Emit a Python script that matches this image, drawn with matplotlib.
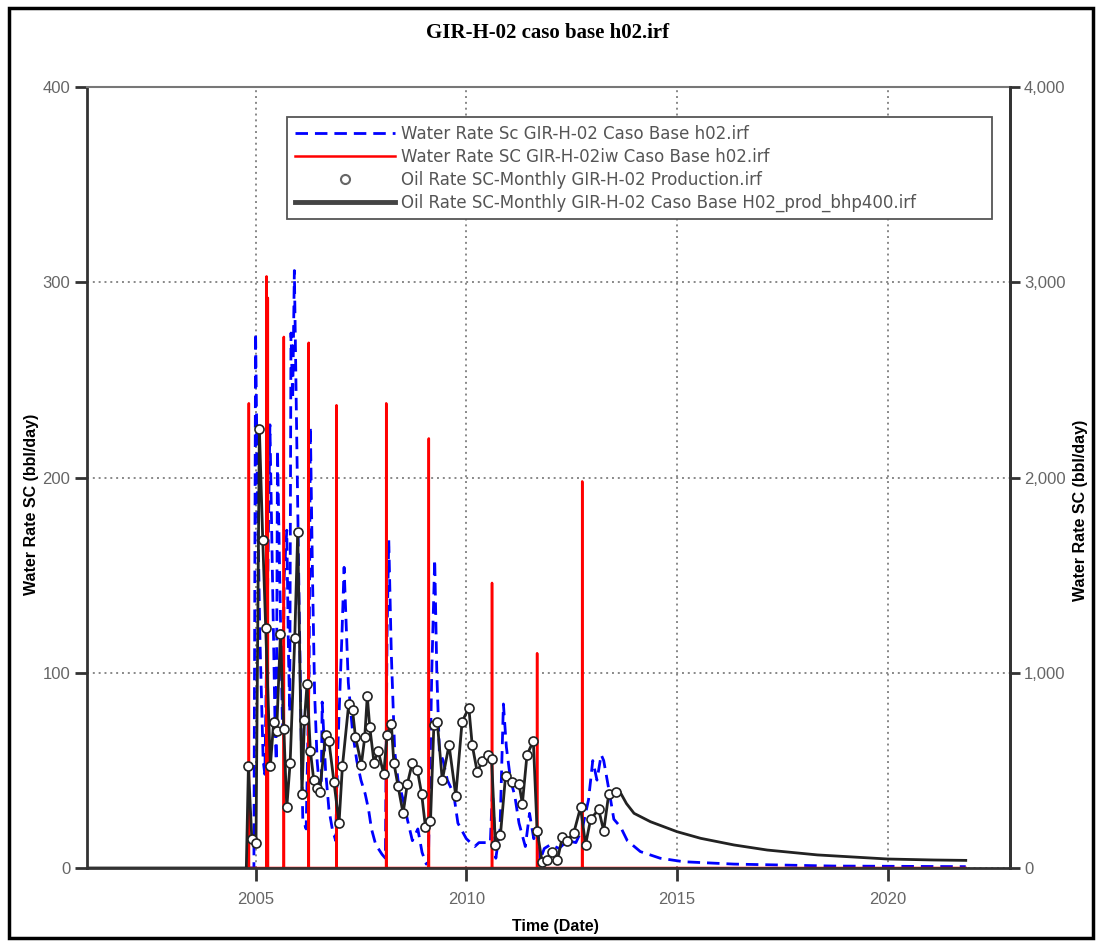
import numpy as np
import matplotlib.pyplot as plt
from matplotlib.patches import Rectangle
from matplotlib.ticker import FuncFormatter

# monthly production (circles), decimal years / bbl/day
prod_t = [2004.83, 2004.91, 2005.01, 2005.09, 2005.17, 2005.24, 2005.35, 2005.43, 2005.50,
          2005.59, 2005.67, 2005.74, 2005.82, 2005.93, 2006.00, 2006.10, 2006.16, 2006.22,
          2006.30, 2006.38, 2006.45, 2006.52, 2006.66, 2006.74, 2006.86, 2006.98, 2007.06,
          2007.21, 2007.30, 2007.37, 2007.51, 2007.59, 2007.65, 2007.71, 2007.81, 2007.91,
          2008.04, 2008.12, 2008.22, 2008.28, 2008.38, 2008.50, 2008.60, 2008.72, 2008.84,
          2008.94, 2009.03, 2009.15, 2009.23, 2009.31, 2009.43, 2009.59, 2009.75, 2009.90,
          2010.06, 2010.14, 2010.26, 2010.38, 2010.51, 2010.60, 2010.69, 2010.81, 2010.93,
          2011.09, 2011.25, 2011.33, 2011.44, 2011.59, 2011.68, 2011.80, 2011.92, 2012.04,
          2012.16, 2012.28, 2012.39, 2012.55, 2012.71, 2012.83, 2012.95, 2013.14, 2013.26,
          2013.38, 2013.54]
prod_v = [52, 15, 13, 225, 168, 123, 52, 75, 70,
          120, 71, 31, 54, 118, 172, 38, 76, 94,
          60, 45, 41, 39, 68, 65, 44, 23, 52,
          84, 81, 67, 53, 67, 88, 72, 54, 60,
          48, 68, 74, 54, 42, 28, 43, 54, 50,
          38, 21, 24, 73, 75, 45, 63, 37, 75,
          82, 63, 49, 55, 58, 56, 12, 17, 47,
          44, 43, 33, 58, 65, 19, 3, 4, 8,
          4, 16, 14, 18, 31, 12, 25, 30, 19,
          38, 39]

# simulated oil rate after history
fcst_t = [2013.62, 2013.80, 2013.98, 2014.37, 2015.00, 2015.56, 2016.35, 2017.14,
          2018.33, 2020.00, 2021.09, 2021.85]
fcst_v = [40, 33, 28, 23.7, 18.6, 15.2, 11.8, 9.2, 6.7, 4.6, 4.1, 3.9]

# simulated water rate (blue dashed)
water_t = [2004.80, 2004.96, 2005.00, 2005.04, 2005.10, 2005.18, 2005.22, 2005.27, 2005.34,
           2005.40, 2005.46, 2005.49, 2005.52, 2005.58, 2005.64, 2005.68, 2005.74, 2005.78,
           2005.81, 2005.84, 2005.88, 2005.92, 2005.97, 2006.03, 2006.08, 2006.12, 2006.20,
           2006.27, 2006.30, 2006.35, 2006.40, 2006.46, 2006.52, 2006.56, 2006.58, 2006.66,
           2006.74, 2006.82, 2006.90, 2006.95, 2007.05, 2007.10, 2007.20, 2007.30, 2007.40,
           2007.50, 2007.60, 2007.68, 2007.75, 2007.85, 2008.00, 2008.08, 2008.12, 2008.16,
           2008.22, 2008.30, 2008.38, 2008.50, 2008.60, 2008.72, 2008.85, 2008.95, 2009.05,
           2009.10, 2009.18, 2009.25, 2009.30, 2009.36, 2009.45, 2009.55, 2009.70, 2009.80,
           2010.00, 2010.20, 2010.30, 2010.57, 2010.62, 2010.70, 2010.80, 2010.88, 2010.95,
           2011.05, 2011.15, 2011.25, 2011.40, 2011.50, 2011.60, 2011.70, 2011.75, 2011.85,
           2012.00, 2012.20, 2012.40, 2012.60, 2012.75, 2012.90, 2013.00, 2013.10, 2013.20,
           2013.26, 2013.40, 2013.50, 2013.66, 2013.82, 2014.13, 2014.60, 2015.16, 2016.35,
           2018.70, 2021.85]
water_v = [0, 0, 274, 200, 120, 55, 48, 120, 227,
           150, 75, 55, 214, 140, 70, 150, 173, 110,
           80, 274, 240, 306, 230, 140, 70, 25, 20,
           100, 226, 150, 90, 55, 40, 45, 85, 50,
           30, 20, 14, 60, 120, 154, 95, 70, 55,
           45, 38, 30, 20, 12, 7, 5, 120, 168,
           110, 60, 45, 35, 25, 14, 20, 8, 2,
           3, 100, 158, 100, 60, 55, 45, 38, 23,
           15, 11, 13, 13, 40, 5, 20, 84, 62,
           45, 37, 23, 11, 28, 15, 20, 4, 10,
           12, 10, 14, 13, 20, 35, 55, 45, 58,
           55, 38, 25, 21, 14, 8.4, 5, 3.2, 2,
           1, 0.7]

# injector water rate: short spikes, zero otherwise
iw_t = [2004.84, 2005.26, 2005.29, 2005.67, 2006.26, 2006.92, 2008.10, 2009.11,
        2010.61, 2011.68, 2012.75]
iw_v = [238, 303, 292, 272, 269, 237, 238, 220, 146, 110, 198]

red_t = [2004.80]
red_v = [0]
for t, v in zip(iw_t, iw_v):
    red_t += [t - 0.004, t, t + 0.004]
    red_v += [0, v, 0]
red_t.append(2021.85)
red_v.append(0)

sim_t = [2001.0, 2004.78] + prod_t + fcst_t
sim_v = [0, 0] + prod_v + fcst_v

W, H = 1097, 942
fig = plt.figure(figsize=(W / 100, H / 100), dpi=100)
ax = fig.add_axes([87 / W, 1 - 868 / H, (1010 - 87) / W, (868 - 87) / H])

ax.plot(water_t, water_v, color='#0000ff', lw=2.0, dashes=(4.5, 2.5),
        label='Water Rate Sc GIR-H-02 Caso Base h02.irf')
ax.plot(red_t, red_v, color='#ff0000', lw=1.8,
        label='Water Rate SC GIR-H-02iw Caso Base h02.irf')
l_sim, = ax.plot(sim_t, sim_v, color='#222222', lw=2.0)
l_prod, = ax.plot(prod_t, prod_v, 'o', ms=6.5, mfc='white', mec='#222222', mew=1.2,
                  label='Oil Rate SC-Monthly GIR-H-02 Production.irf')
l_sim.set_label('Oil Rate SC-Monthly GIR-H-02 Caso Base H02_prod_bhp400.irf')

ax.set_xlim(2001.0, 2022.9)
ax.set_ylim(0, 400)
ax.set_xticks([2005, 2010, 2015, 2020])
ax.set_yticks([0, 100, 200, 300, 400])
ax.grid(True, linestyle=(0, (1, 2)), color='#888888', lw=1.4)
ax.set_axisbelow(True)

ax.tick_params(axis='y', direction='out', length=9, width=2, color='#333333',
               labelcolor='#666666', pad=3)
ax.tick_params(axis='x', direction='out', length=9, width=2, color='#333333',
               labelcolor='#666666', pad=8)
for lab in ax.get_xticklabels() + ax.get_yticklabels():
    lab.set_fontfamily('Liberation Sans')
    lab.set_fontsize(12)

ax.spines['top'].set_color('#777777')
ax.spines['top'].set_linewidth(1.5)
for s in ['left', 'bottom', 'right']:
    ax.spines[s].set_color('#333333')
    ax.spines[s].set_linewidth(2)

ax2 = ax.twinx()
ax2.set_ylim(0, 4000)
ax2.set_yticks([0, 1000, 2000, 3000, 4000])
ax2.yaxis.set_major_formatter(FuncFormatter(lambda v, p: f'{int(v):,}'))
ax2.tick_params(axis='y', direction='out', length=7, width=2, color='#333333',
                labelcolor='#666666', pad=3)
for lab in ax2.get_yticklabels():
    lab.set_fontfamily('Liberation Sans')
    lab.set_fontsize(12)
for s in ['left', 'bottom', 'top']:
    ax2.spines[s].set_visible(False)
ax2.spines['right'].set_color('#333333')
ax2.spines['right'].set_linewidth(2)

leg = ax2.legend(handles=ax.get_lines()[:2] + [l_prod, l_sim],
                 loc='upper left', bbox_to_anchor=(287 / W, 1 - 217 / H, 705 / W, 100 / H),
                 bbox_transform=fig.transFigure, mode='expand', borderaxespad=0,
                 fancybox=False, framealpha=1, edgecolor='#555555',
                 prop=dict(family='DejaVu Sans', size=12), labelcolor='#555555',
                 handlelength=6.0, handletextpad=0.4, labelspacing=0.3,
                 borderpad=0.45, numpoints=1, markerscale=1.0)
leg.get_frame().set_linewidth(1.3)
leg.get_lines()[2].set_markeredgecolor('#666666')
leg.get_lines()[2].set_markeredgewidth(1.5)
leg.get_lines()[3].set_linewidth(3.5)
leg.get_lines()[3].set_color('#444444')

fig.text(548 / W, 1 - 33 / H, 'GIR-H-02 caso base h02.irf', ha='center', va='center',
         family='Liberation Serif', fontweight='bold', fontsize=15)
fig.text(32 / W, 1 - 504 / H, 'Water Rate SC (bbl/day)', rotation=90, ha='center',
         va='center', family='Liberation Sans', fontweight='bold', fontsize=11.5)
fig.text(1080 / W, 1 - 510 / H, 'Water Rate SC (bbl/day)', rotation=90, ha='center',
         va='center', family='Liberation Sans', fontweight='bold', fontsize=11.5)
fig.text(555 / W, 1 - 927 / H, 'Time (Date)', ha='center', va='center',
         family='Liberation Sans', fontweight='bold', fontsize=11.5)

fig.patches.append(Rectangle((9 / W, 1 - 938 / H), (1093 - 9) / W, (938 - 8) / H,
                             transform=fig.transFigure, fill=False, ec='black', lw=2.5))

fig.savefig('out.png', dpi=100)
